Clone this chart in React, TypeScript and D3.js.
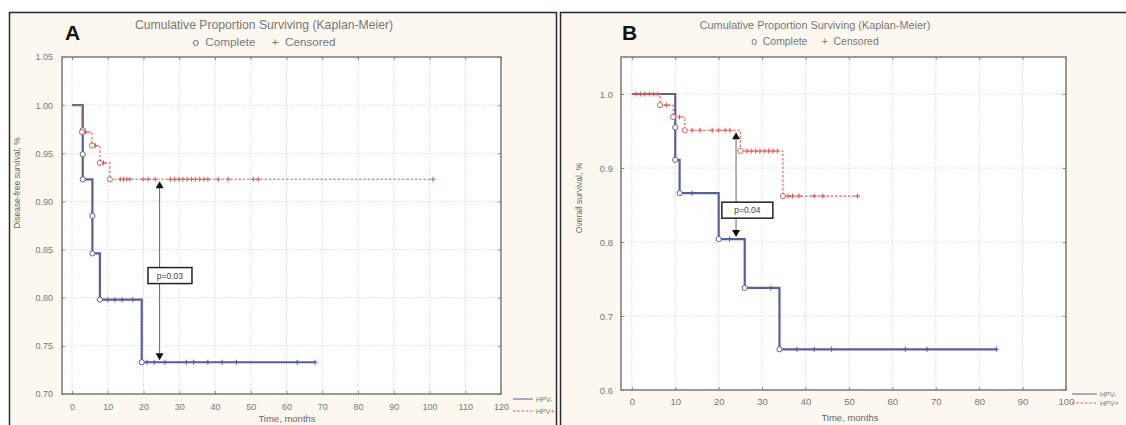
import * as d3 from "d3";
import React, { useRef, useEffect } from "react";

const FONT = "'Liberation Sans', Arial, sans-serif";
const BLUE = "#5a5f98";
const RED = "#d9605c";

// panel A: disease-free survival
const aXTicks = [0, 10, 20, 30, 40, 50, 60, 70, 80, 90, 100, 110, 120];
const aYTicks = [0.7, 0.75, 0.8, 0.85, 0.9, 0.95, 1.0, 1.05];

const aNegT = [0, 3, 5.7, 7.8, 19.5];
const aNegS = [1.0, 0.923, 0.846, 0.798, 0.733];
const aNegEnd = 68;
const aNegCompleteT = [3, 3, 3, 5.7, 5.7, 7.8, 19.5];
const aNegCompleteS = [0.974, 0.949, 0.923, 0.885, 0.846, 0.798, 0.733];
const aNegCensorT = [10, 12, 14, 17, 21, 23, 26, 32, 34, 38, 42, 46, 63, 68];

const aPosT = [0, 2.8, 5.6, 7.8, 10.6];
const aPosS = [1.0, 0.972, 0.958, 0.94, 0.923];
const aPosEnd = 101;
const aPosCompleteT = [2.8, 5.6, 7.8, 10.6];
const aPosCompleteS = [0.972, 0.958, 0.94, 0.923];
const aPosCensorT = [
  3.8, 6.6, 8.8, 13.5, 14.4, 15.3, 16.2, 19.9, 21.3, 23.3, 27.5, 28.7, 29.9, 31,
  32.2, 33.4, 34.5, 35.7, 36.9, 38, 40.9, 43.7, 50.7, 52.1, 101,
];

// panel B: overall survival
const bXTicks = [0, 10, 20, 30, 40, 50, 60, 70, 80, 90, 100];
const bYTicks = [0.6, 0.7, 0.8, 0.9, 1.0];

const bNegT = [0, 10, 11, 20, 26, 34];
const bNegS = [1.0, 0.911, 0.866, 0.804, 0.738, 0.655];
const bNegEnd = 84;
const bNegCompleteT = [10, 10, 11, 20, 26, 34];
const bNegCompleteS = [0.955, 0.911, 0.866, 0.804, 0.738, 0.655];
const bNegCensorT = [13.8, 22.5, 32, 38, 42, 46, 63, 68, 84];

const bPosT = [0, 6.5, 9.5, 12.2, 25, 34.8];
const bPosS = [1.0, 0.985, 0.969, 0.951, 0.923, 0.862];
const bPosEnd = 52;
const bPosCompleteT = [6.5, 9.5, 12.2, 25, 34.8];
const bPosCompleteS = [0.985, 0.969, 0.951, 0.923, 0.862];
const bPosCensorT = [
  1, 2, 3, 4, 5, 6, 8, 11, 13.9, 15.7, 18.5, 20, 21.5, 22.6, 26.5, 27.5, 28.5,
  29.5, 30.5, 31.5, 32.5, 33.5, 36, 37, 38.5, 42, 44, 52,
];

function survAt(ts, ss, t) {
  let s = ss[0];
  for (let i = 0; i < ts.length; i++) if (ts[i] <= t) s = ss[i];
  return s;
}

const panels = [
  {
    frame: [9, 12, 547, 420],
    plot: { left: 62, right: 501, top: 57, bottom: 394 },
    xDomain: [-2.8, 120],
    yDomain: [0.7, 1.05],
    xTicks: aXTicks,
    yTicks: aYTicks,
    yFormat: ".2f",
    tickSize: 9,
    xPad: 10,
    yPad: 9,
    letter: "A",
    letterX: 65,
    title: [264, 29, 12.2, 46],
    yLabel: ["Disease-free survival, %", 20, 183],
    xLabel: ["Time, months", 287, 422],
    legend: [513, 533, 399, 411, 536],
    series: [
      { t: aNegT, s: aNegS, end: aNegEnd, ct: aNegCompleteT, cs: aNegCompleteS, cens: aNegCensorT, color: BLUE, width: 2.2, dash: null },
      { t: aPosT, s: aPosS, end: aPosEnd, ct: aPosCompleteT, cs: aPosCompleteS, cens: aPosCensorT, color: RED, width: 1.1, dash: "2.5,1.8" },
    ],
    p: { t: 24.5, from: 0.923, to: 0.733, bt: 27.4, bs: 0.823, w: 44, h: 16, text: "p=0.03" },
  },
  {
    frame: [560, 12, 580, 420],
    plot: { left: 621, right: 1066, top: 57, bottom: 390 },
    xDomain: [-2.5, 100],
    yDomain: [0.6, 1.05],
    xTicks: bXTicks,
    yTicks: bYTicks,
    yFormat: ".1f",
    tickSize: 9.5,
    xPad: 8,
    yPad: 8,
    letter: "B",
    letterX: 622,
    title: [815, 29, 10.9, 45],
    yLabel: ["Overall survival, %", 582, 198],
    xLabel: ["Time, months", 850, 421],
    legend: [1072, 1097, 394, 403, 1100],
    series: [
      { t: bNegT, s: bNegS, end: bNegEnd, ct: bNegCompleteT, cs: bNegCompleteS, cens: bNegCensorT, color: BLUE, width: 2.2, dash: null },
      { t: bPosT, s: bPosS, end: bPosEnd, ct: bPosCompleteT, cs: bPosCompleteS, cens: bPosCensorT, color: RED, width: 1.1, dash: "2.5,1.8" },
    ],
    p: { t: 24, from: 0.951, to: 0.804, bt: 26.6, bs: 0.843, w: 51, h: 16, text: "p=0.04" },
  },
];

function drawPanel(root, p) {
  const g = root.append("g");
  const { left, right, top, bottom } = p.plot;
  const x = d3.scaleLinear().domain(p.xDomain).range([left, right]);
  const y = d3.scaleLinear().domain(p.yDomain).range([bottom, top]);

  // cream panel with dark border
  g.append("rect")
    .attr("x", p.frame[0] + 0.5)
    .attr("y", p.frame[1] + 0.5)
    .attr("width", p.frame[2])
    .attr("height", p.frame[3])
    .attr("fill", "#fdf8ef")
    .attr("stroke", "#2a2a2a")
    .attr("stroke-width", 1.5);

  g.append("rect")
    .attr("x", left)
    .attr("y", top)
    .attr("width", right - left)
    .attr("height", bottom - top)
    .attr("fill", "#ffffff");

  // dotted grid
  g.selectAll(null)
    .data(p.xTicks.filter((t) => x(t) > left + 1 && x(t) < right - 1))
    .enter()
    .append("line")
    .attr("x1", (d) => x(d))
    .attr("x2", (d) => x(d))
    .attr("y1", top)
    .attr("y2", bottom)
    .attr("stroke", "#d8d8d8")
    .attr("stroke-dasharray", "1.5,1.5");
  g.selectAll(null)
    .data(p.yTicks.filter((t) => y(t) > top + 1 && y(t) < bottom - 1))
    .enter()
    .append("line")
    .attr("x1", left)
    .attr("x2", right)
    .attr("y1", (d) => y(d))
    .attr("y2", (d) => y(d))
    .attr("stroke", "#d8d8d8")
    .attr("stroke-dasharray", "1.5,1.5");

  // axes, ticks pointing inward on all sides
  const styleAxis = (a) => {
    a.select(".domain").remove();
    a.selectAll("line").attr("stroke", "#888");
    a.selectAll("text")
      .attr("fill", "#777")
      .style("font-family", FONT)
      .style("font-size", p.tickSize + "px");
  };
  g.append("g")
    .attr("transform", `translate(0,${bottom})`)
    .call(d3.axisBottom(x).tickValues(p.xTicks).tickSize(-3).tickPadding(p.xPad).tickFormat(d3.format("d")))
    .call(styleAxis);
  g.append("g")
    .attr("transform", `translate(${left},0)`)
    .call(d3.axisLeft(y).tickValues(p.yTicks).tickSize(-3).tickPadding(p.yPad).tickFormat(d3.format(p.yFormat)))
    .call(styleAxis);
  g.append("g")
    .attr("transform", `translate(0,${top})`)
    .call(d3.axisTop(x).tickValues(p.xTicks).tickSize(-3).tickFormat(() => ""))
    .call(styleAxis);
  g.append("g")
    .attr("transform", `translate(${right},0)`)
    .call(d3.axisRight(y).tickValues(p.yTicks).tickSize(-3).tickFormat(() => ""))
    .call(styleAxis);

  g.append("rect")
    .attr("x", left)
    .attr("y", top)
    .attr("width", right - left)
    .attr("height", bottom - top)
    .attr("fill", "none")
    .attr("stroke", "#7a7a7a")
    .attr("stroke-width", 1.5);

  // step curves
  const line = d3
    .line()
    .x((d) => x(d[0]))
    .y((d) => y(d[1]))
    .curve(d3.curveStepAfter);

  p.series.forEach((s) => {
    const pts = s.t.map((t, i) => [t, s.s[i]]);
    pts.push([s.end, s.s[s.s.length - 1]]);
    g.append("path")
      .attr("d", line(pts))
      .attr("fill", "none")
      .attr("stroke", s.color)
      .attr("stroke-width", s.width)
      .attr("stroke-dasharray", s.dash);

    g.selectAll(null)
      .data(s.cens)
      .enter()
      .append("path")
      .attr("transform", (t) => `translate(${x(t)},${y(survAt(s.t, s.s, t))})`)
      .attr("d", "M-2.5,0H2.5M0,-2.5V2.5")
      .attr("stroke", s.color)
      .attr("stroke-width", 1.1);

    g.selectAll(null)
      .data(d3.zip(s.ct, s.cs))
      .enter()
      .append("circle")
      .attr("cx", (d) => x(d[0]))
      .attr("cy", (d) => y(d[1]))
      .attr("r", 2.6)
      .attr("fill", "#fff")
      .attr("stroke", s.color)
      .attr("stroke-width", 1);
  });

  // p-value arrow and box
  const px = x(p.p.t);
  const yTop = y(p.p.from) + 2;
  const yBot = y(p.p.to) - 2;
  g.append("line")
    .attr("x1", px)
    .attr("x2", px)
    .attr("y1", yTop + 6)
    .attr("y2", yBot - 6)
    .attr("stroke", "#666")
    .attr("stroke-width", 1);
  g.append("path")
    .attr("d", `M${px},${yTop}L${px - 4},${yTop + 7}L${px + 4},${yTop + 7}Z`)
    .attr("fill", "#111");
  g.append("path")
    .attr("d", `M${px},${yBot}L${px - 4},${yBot - 7}L${px + 4},${yBot - 7}Z`)
    .attr("fill", "#111");
  const bx = x(p.p.bt);
  const by = y(p.p.bs);
  g.append("rect")
    .attr("x", bx - p.p.w / 2)
    .attr("y", by - p.p.h / 2)
    .attr("width", p.p.w)
    .attr("height", p.p.h)
    .attr("fill", "#fff")
    .attr("stroke", "#222")
    .attr("stroke-width", 1.5);
  g.append("text")
    .attr("x", bx)
    .attr("y", by + 3)
    .attr("text-anchor", "middle")
    .attr("fill", "#444")
    .style("font-family", FONT)
    .style("font-size", "8.5px")
    .text(p.p.text);

  // titles and labels
  const [tx, ty, tsz, ty2] = p.title;
  g.append("text")
    .attr("x", tx)
    .attr("y", ty)
    .attr("text-anchor", "middle")
    .attr("fill", "#777")
    .style("font-family", FONT)
    .style("font-size", tsz + "px")
    .text("Cumulative Proportion Surviving (Kaplan-Meier)");
  g.append("text")
    .attr("x", tx)
    .attr("y", ty2)
    .attr("text-anchor", "middle")
    .attr("fill", "#777")
    .style("font-family", FONT)
    .style("font-size", tsz - 0.5 + "px")
    .attr("xml:space", "preserve")
    .text("o  Complete     +  Censored");

  g.append("text")
    .attr("x", p.letterX)
    .attr("y", 40)
    .attr("fill", "#111")
    .style("font-family", FONT)
    .style("font-weight", "bold")
    .style("font-size", "21px")
    .text(p.letter);

  g.append("text")
    .attr("transform", `translate(${p.yLabel[1]},${p.yLabel[2]}) rotate(-90)`)
    .attr("text-anchor", "middle")
    .attr("fill", "#666")
    .style("font-family", FONT)
    .style("font-size", "8.5px")
    .text(p.yLabel[0]);
  g.append("text")
    .attr("x", p.xLabel[1])
    .attr("y", p.xLabel[2])
    .attr("text-anchor", "middle")
    .attr("fill", "#666")
    .style("font-family", FONT)
    .style("font-size", "9.5px")
    .text(p.xLabel[0]);

  // legend
  const [lx1, lx2, ly1, ly2, ltx] = p.legend;
  [
    [ly1, BLUE, null, "HPV-"],
    [ly2, RED, "2.5,1.8", "HPV+"],
  ].forEach(([ly, c, dash, label]) => {
    g.append("line")
      .attr("x1", lx1)
      .attr("x2", lx2)
      .attr("y1", ly)
      .attr("y2", ly)
      .attr("stroke", c)
      .attr("stroke-width", 1)
      .attr("stroke-dasharray", dash);
    g.append("text")
      .attr("x", ltx)
      .attr("y", ly + 2.5)
      .attr("fill", "#777")
      .style("font-family", FONT)
      .style("font-size", "7px")
      .text(label);
  });
}

function App() {
  const ref = useRef(null);

  useEffect(() => {
    const svg = d3.select(ref.current);
    svg.selectAll("*").remove();
    svg.append("rect").attr("width", 1126).attr("height", 425).attr("fill", "#fff");
    panels.forEach((p) => drawPanel(svg, p));
  }, []);

  return (
    <svg
      ref={ref}
      width={1126}
      height={425}
      style={{ position: "absolute", left: 0, top: 0, display: "block" }}
    ></svg>
  );
}

export default App;
